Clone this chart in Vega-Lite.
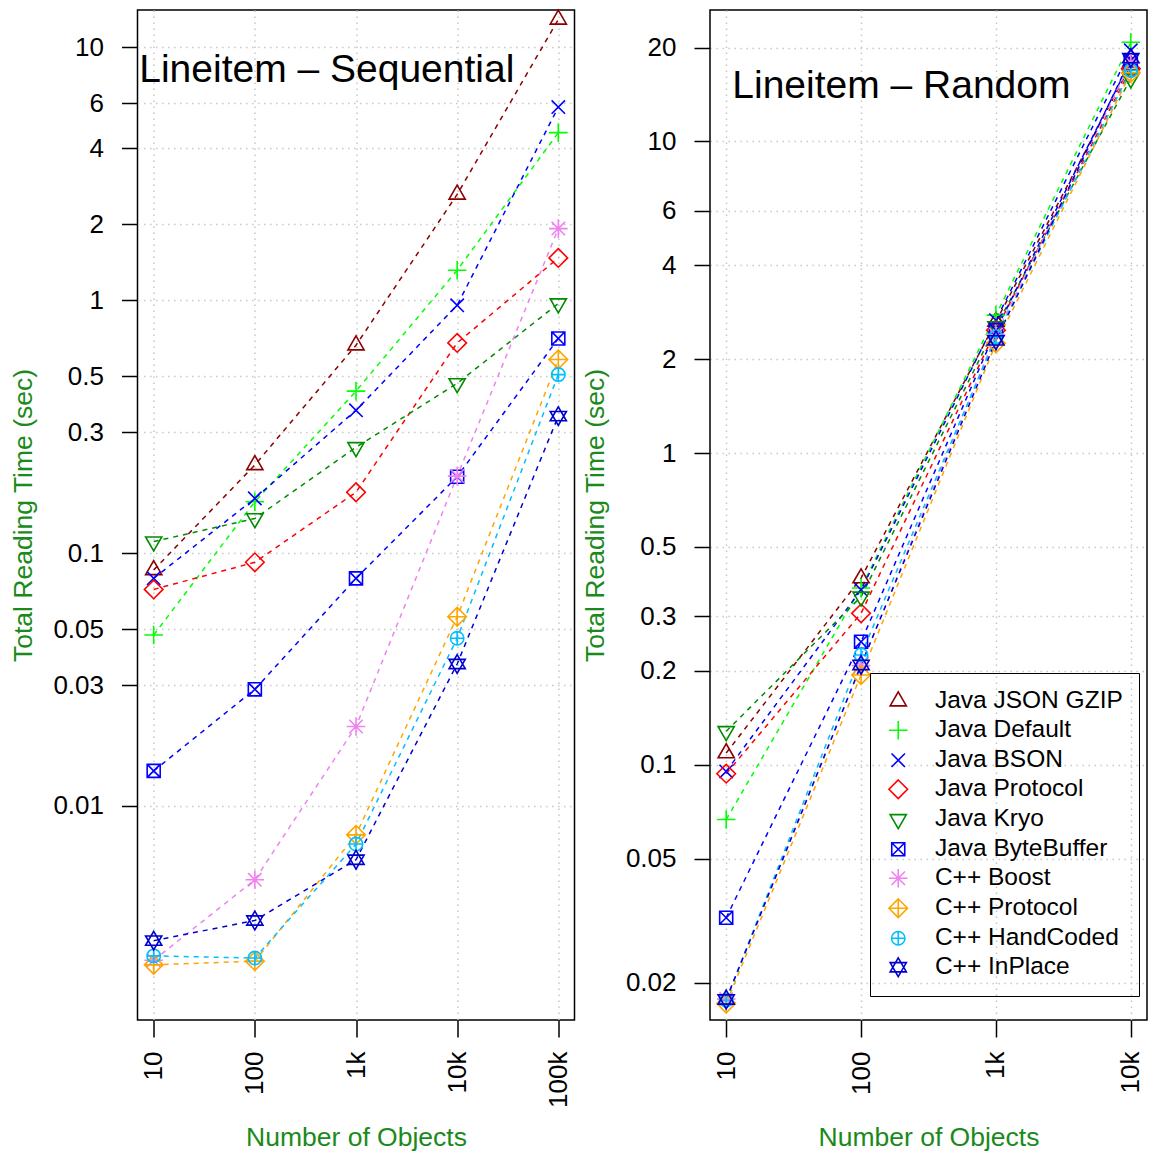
{
  "$schema": "https://vega.github.io/schema/vega-lite/v6.json",
  "background": "white",
  "padding": {"left": 9.5, "top": 6, "right": 0, "bottom": 0},
  "spacing": 6.5,
  "datasets": {
    "seq": [
      {"series": "Java JSON GZIP", "n": 10, "t": 0.0857},
      {"series": "Java JSON GZIP", "n": 100, "t": 0.223},
      {"series": "Java JSON GZIP", "n": 1000, "t": 0.664},
      {"series": "Java JSON GZIP", "n": 10000, "t": 2.62},
      {"series": "Java JSON GZIP", "n": 100000, "t": 12.9},
      {"series": "Java Default", "n": 10, "t": 0.0474},
      {"series": "Java Default", "n": 100, "t": 0.1595},
      {"series": "Java Default", "n": 1000, "t": 0.437},
      {"series": "Java Default", "n": 10000, "t": 1.314},
      {"series": "Java Default", "n": 100000, "t": 4.6},
      {"series": "Java BSON", "n": 10, "t": 0.0794},
      {"series": "Java BSON", "n": 100, "t": 0.1645},
      {"series": "Java BSON", "n": 1000, "t": 0.367},
      {"series": "Java BSON", "n": 10000, "t": 0.955},
      {"series": "Java BSON", "n": 100000, "t": 5.81},
      {"series": "Java Protocol", "n": 10, "t": 0.0718},
      {"series": "Java Protocol", "n": 100, "t": 0.0919},
      {"series": "Java Protocol", "n": 1000, "t": 0.174},
      {"series": "Java Protocol", "n": 10000, "t": 0.678},
      {"series": "Java Protocol", "n": 100000, "t": 1.47},
      {"series": "Java Kryo", "n": 10, "t": 0.111},
      {"series": "Java Kryo", "n": 100, "t": 0.137},
      {"series": "Java Kryo", "n": 1000, "t": 0.262},
      {"series": "Java Kryo", "n": 10000, "t": 0.469},
      {"series": "Java Kryo", "n": 100000, "t": 0.97},
      {"series": "Java ByteBuffer", "n": 10, "t": 0.01375},
      {"series": "Java ByteBuffer", "n": 100, "t": 0.0289},
      {"series": "Java ByteBuffer", "n": 1000, "t": 0.0794},
      {"series": "Java ByteBuffer", "n": 10000, "t": 0.2003},
      {"series": "Java ByteBuffer", "n": 100000, "t": 0.706},
      {"series": "C++ Boost", "n": 10, "t": 0.00245},
      {"series": "C++ Boost", "n": 100, "t": 0.0051},
      {"series": "C++ Boost", "n": 1000, "t": 0.0206},
      {"series": "C++ Boost", "n": 10000, "t": 0.2015},
      {"series": "C++ Boost", "n": 100000, "t": 1.92},
      {"series": "C++ Protocol", "n": 10, "t": 0.00235},
      {"series": "C++ Protocol", "n": 100, "t": 0.00243},
      {"series": "C++ Protocol", "n": 1000, "t": 0.00768},
      {"series": "C++ Protocol", "n": 10000, "t": 0.056},
      {"series": "C++ Protocol", "n": 100000, "t": 0.583},
      {"series": "C++ HandCoded", "n": 10, "t": 0.00255},
      {"series": "C++ HandCoded", "n": 100, "t": 0.0025},
      {"series": "C++ HandCoded", "n": 1000, "t": 0.00706},
      {"series": "C++ HandCoded", "n": 10000, "t": 0.046},
      {"series": "C++ HandCoded", "n": 100000, "t": 0.508},
      {"series": "C++ InPlace", "n": 10, "t": 0.00293},
      {"series": "C++ InPlace", "n": 100, "t": 0.00352},
      {"series": "C++ InPlace", "n": 1000, "t": 0.00612},
      {"series": "C++ InPlace", "n": 10000, "t": 0.0364},
      {"series": "C++ InPlace", "n": 100000, "t": 0.348}
    ],
    "rand": [
      {"series": "Java JSON GZIP", "n": 10, "t": 0.109},
      {"series": "Java JSON GZIP", "n": 100, "t": 0.397},
      {"series": "Java JSON GZIP", "n": 1000, "t": 2.64},
      {"series": "Java JSON GZIP", "n": 10000, "t": 17.6},
      {"series": "Java Default", "n": 10, "t": 0.0667},
      {"series": "Java Default", "n": 100, "t": 0.369},
      {"series": "Java Default", "n": 1000, "t": 2.77},
      {"series": "Java Default", "n": 10000, "t": 20.8},
      {"series": "Java BSON", "n": 10, "t": 0.0952},
      {"series": "Java BSON", "n": 100, "t": 0.364},
      {"series": "Java BSON", "n": 1000, "t": 2.67},
      {"series": "Java BSON", "n": 10000, "t": 19.6},
      {"series": "Java Protocol", "n": 10, "t": 0.0936},
      {"series": "Java Protocol", "n": 100, "t": 0.306},
      {"series": "Java Protocol", "n": 1000, "t": 2.48},
      {"series": "Java Protocol", "n": 10000, "t": 17.1},
      {"series": "Java Kryo", "n": 10, "t": 0.128},
      {"series": "Java Kryo", "n": 100, "t": 0.346},
      {"series": "Java Kryo", "n": 1000, "t": 2.55},
      {"series": "Java Kryo", "n": 10000, "t": 15.9},
      {"series": "Java ByteBuffer", "n": 10, "t": 0.0323},
      {"series": "Java ByteBuffer", "n": 100, "t": 0.248},
      {"series": "Java ByteBuffer", "n": 1000, "t": 2.48},
      {"series": "Java ByteBuffer", "n": 10000, "t": 18.2},
      {"series": "C++ Boost", "n": 10, "t": 0.0177},
      {"series": "C++ Boost", "n": 100, "t": 0.208},
      {"series": "C++ Boost", "n": 1000, "t": 2.4},
      {"series": "C++ Boost", "n": 10000, "t": 17.9},
      {"series": "C++ Protocol", "n": 10, "t": 0.01714},
      {"series": "C++ Protocol", "n": 100, "t": 0.194},
      {"series": "C++ Protocol", "n": 1000, "t": 2.25},
      {"series": "C++ Protocol", "n": 10000, "t": 16.6},
      {"series": "C++ HandCoded", "n": 10, "t": 0.01755},
      {"series": "C++ HandCoded", "n": 100, "t": 0.225},
      {"series": "C++ HandCoded", "n": 1000, "t": 2.36},
      {"series": "C++ HandCoded", "n": 10000, "t": 16.9},
      {"series": "C++ InPlace", "n": 10, "t": 0.01765},
      {"series": "C++ InPlace", "n": 100, "t": 0.209},
      {"series": "C++ InPlace", "n": 1000, "t": 2.3},
      {"series": "C++ InPlace", "n": 10000, "t": 18.5}
    ],
    "notes": [
      {"panel": "seq", "label": "Lineitem – Sequential", "n": 7.2, "t": 7.27},
      {"panel": "rand", "label": "Lineitem – Random", "n": 11.1, "t": 13.8}
    ]
  },
  "hconcat": [
    {
      "width": 437,
      "height": 1010,
      "data": {"name": "seq"},
      "encoding": {
        "x": {
          "field": "n", "type": "quantitative",
          "scale": {"type": "log", "domain": [6.918, 144544], "nice": false},
          "axis": {
            "values": [10, 100, 1000, 10000, 100000],
            "labelExpr": "datum.value >= 1000 ? format(datum.value / 1000, 'd') + 'k' : format(datum.value, 'd')",
            "labelAngle": 270,
            "labelPadding": 14,
            "tickSize": 17,
            "title": "Number of Objects",
            "titlePadding": 17
          }
        },
        "y": {
          "field": "t", "type": "quantitative",
          "scale": {"type": "log", "domain": [0.001422, 14.06], "nice": false},
          "axis": {
            "values": [0.01, 0.03, 0.05, 0.1, 0.3, 0.5, 1, 2, 4, 6, 10],
            "labelExpr": "'' + datum.value",
            "labelPadding": 18,
            "tickSize": 16,
            "title": "Total Reading Time (sec)",
            "titlePadding": 15.5
          }
        }
      },
      "layer": [
        {
          "mark": {"type": "line", "strokeDash": [5, 5], "strokeWidth": 1.5},
          "encoding": {
            "color": {"field": "series", "type": "nominal", "legend": null,
              "scale": {"domain": ["Java JSON GZIP", "Java Default", "Java BSON", "Java Protocol", "Java Kryo", "Java ByteBuffer", "C++ Boost", "C++ Protocol", "C++ HandCoded", "C++ InPlace"],
                        "range": ["#8B0000", "#00FF00", "#0000FF", "#FF0000", "#008B00", "#0000FF", "#EE82EE", "#FFA500", "#00BFFF", "#0000CD"]}}
          }
        },
        {
          "mark": {"type": "point", "filled": false, "size": 346, "strokeWidth": 1.6, "opacity": 1},
          "encoding": {
            "color": {"field": "series", "type": "nominal", "legend": null,
              "scale": {"domain": ["Java JSON GZIP", "Java Default", "Java BSON", "Java Protocol", "Java Kryo", "Java ByteBuffer", "C++ Boost", "C++ Protocol", "C++ HandCoded", "C++ InPlace"],
                        "range": ["#8B0000", "#00FF00", "#0000FF", "#FF0000", "#008B00", "#0000FF", "#EE82EE", "#FFA500", "#00BFFF", "#0000CD"]}},
            "shape": {"field": "series", "type": "nominal", "legend": null,
              "scale": {"domain": ["Java JSON GZIP", "Java Default", "Java BSON", "Java Protocol", "Java Kryo", "Java ByteBuffer", "C++ Boost", "C++ Protocol", "C++ HandCoded", "C++ InPlace"],
                        "range": [
                          "M0,-1L0.87,0.5L-0.87,0.5Z",
                          "M-1,0H1M0,-1V1",
                          "M-0.72,-0.72L0.72,0.72M-0.72,0.72L0.72,-0.72",
                          "M0,-1L1,0L0,1L-1,0Z",
                          "M0,1L0.87,-0.5L-0.87,-0.5Z",
                          "M-0.7,-0.7H0.7V0.7H-0.7ZM-0.7,-0.7L0.7,0.7M-0.7,0.7L0.7,-0.7",
                          "M-1,0H1M0,-1V1M-0.72,-0.72L0.72,0.72M-0.72,0.72L0.72,-0.72",
                          "M0,-1L1,0L0,1L-1,0ZM-1,0H1M0,-1V1",
                          "M-0.72,0A0.72 0.72 0 1 0 0.72,0A0.72 0.72 0 1 0 -0.72,0ZM-0.72,0H0.72M0,-0.72V0.72",
                          "M0,-1L0.87,0.5L-0.87,0.5ZM0,1L0.87,-0.5L-0.87,-0.5Z"
                        ]}}
          }
        },
        {
          "data": {"name": "notes"},
          "transform": [{"filter": "datum.panel === 'seq'"}],
          "mark": {"type": "text", "align": "left", "baseline": "alphabetic", "fontSize": 39, "font": "Liberation Sans", "color": "black"},
          "encoding": {"text": {"field": "label"}}
        }
      ]
    },
    {
      "width": 437,
      "height": 1010,
      "data": {"name": "rand"},
      "encoding": {
        "x": {
          "field": "n", "type": "quantitative",
          "scale": {"type": "log", "domain": [7.586, 13183], "nice": false},
          "axis": {
            "values": [10, 100, 1000, 10000],
            "labelExpr": "datum.value >= 1000 ? format(datum.value / 1000, 'd') + 'k' : format(datum.value, 'd')",
            "labelAngle": 270,
            "labelPadding": 14,
            "tickSize": 17,
            "title": "Number of Objects",
            "titlePadding": 30
          }
        },
        "y": {
          "field": "t", "type": "quantitative",
          "scale": {"type": "log", "domain": [0.01517, 26.4], "nice": false},
          "axis": {
            "values": [0.02, 0.05, 0.1, 0.2, 0.3, 0.5, 1, 2, 4, 6, 10, 20],
            "labelExpr": "'' + datum.value",
            "labelPadding": 18,
            "tickSize": 16,
            "title": "Total Reading Time (sec)",
            "titlePadding": 15.5
          }
        }
      },
      "layer": [
        {
          "mark": {"type": "line", "strokeDash": [5, 5], "strokeWidth": 1.5},
          "encoding": {
            "color": {"field": "series", "type": "nominal",
              "scale": {"domain": ["Java JSON GZIP", "Java Default", "Java BSON", "Java Protocol", "Java Kryo", "Java ByteBuffer", "C++ Boost", "C++ Protocol", "C++ HandCoded", "C++ InPlace"],
                        "range": ["#8B0000", "#00FF00", "#0000FF", "#FF0000", "#008B00", "#0000FF", "#EE82EE", "#FFA500", "#00BFFF", "#0000CD"]}}
          }
        },
        {
          "mark": {"type": "point", "filled": false, "size": 346, "strokeWidth": 1.6, "opacity": 1},
          "encoding": {
            "color": {"field": "series", "type": "nominal",
              "scale": {"domain": ["Java JSON GZIP", "Java Default", "Java BSON", "Java Protocol", "Java Kryo", "Java ByteBuffer", "C++ Boost", "C++ Protocol", "C++ HandCoded", "C++ InPlace"],
                        "range": ["#8B0000", "#00FF00", "#0000FF", "#FF0000", "#008B00", "#0000FF", "#EE82EE", "#FFA500", "#00BFFF", "#0000CD"]},
              "legend": {
                "title": null,
                "orient": "none",
                "legendX": 160,
                "legendY": 663,
                "padding": 16,
                "strokeColor": "black",
                "labelFont": "Liberation Sans",
                "labelFontSize": 24.5,
                "labelColor": "black",
                "labelLimit": 400,
                "labelOffset": 24.4,
                "rowPadding": 4,
                "symbolSize": 346,
                "symbolStrokeWidth": 1.6,
                "symbolFillColor": "transparent",
                "encode": {
                  "legend": {"strokeWidth": {"value": 1.5}},
                  "symbols": {"shape": {"value": {"expr": "['M-1.95,0H-1.35M1.35,0H1.95M0,-1L0.87,0.5L-0.87,0.5Z','M-1.95,0H-1.35M1.35,0H1.95M-1,0H1M0,-1V1','M-1.95,0H-1.35M1.35,0H1.95M-0.72,-0.72L0.72,0.72M-0.72,0.72L0.72,-0.72','M-1.95,0H-1.35M1.35,0H1.95M0,-1L1,0L0,1L-1,0Z','M-1.95,0H-1.35M1.35,0H1.95M0,1L0.87,-0.5L-0.87,-0.5Z','M-1.95,0H-1.35M1.35,0H1.95M-0.7,-0.7H0.7V0.7H-0.7ZM-0.7,-0.7L0.7,0.7M-0.7,0.7L0.7,-0.7','M-1.95,0H-1.35M1.35,0H1.95M-1,0H1M0,-1V1M-0.72,-0.72L0.72,0.72M-0.72,0.72L0.72,-0.72','M-1.95,0H-1.35M1.35,0H1.95M0,-1L1,0L0,1L-1,0ZM-1,0H1M0,-1V1','M-1.95,0H-1.35M1.35,0H1.95M-0.72,0A0.72 0.72 0 1 0 0.72,0A0.72 0.72 0 1 0 -0.72,0ZM-0.72,0H0.72M0,-0.72V0.72','M-1.95,0H-1.35M1.35,0H1.95M0,-1L0.87,0.5L-0.87,0.5ZM0,1L0.87,-0.5L-0.87,-0.5Z'][indexof(['Java JSON GZIP','Java Default','Java BSON','Java Protocol','Java Kryo','Java ByteBuffer','C++ Boost','C++ Protocol','C++ HandCoded','C++ InPlace'], datum.value)]"}}}
                }
              }
            },
            "shape": {"field": "series", "type": "nominal",
              "scale": {"domain": ["Java JSON GZIP", "Java Default", "Java BSON", "Java Protocol", "Java Kryo", "Java ByteBuffer", "C++ Boost", "C++ Protocol", "C++ HandCoded", "C++ InPlace"],
                        "range": [
                          "M0,-1L0.87,0.5L-0.87,0.5Z",
                          "M-1,0H1M0,-1V1",
                          "M-0.72,-0.72L0.72,0.72M-0.72,0.72L0.72,-0.72",
                          "M0,-1L1,0L0,1L-1,0Z",
                          "M0,1L0.87,-0.5L-0.87,-0.5Z",
                          "M-0.7,-0.7H0.7V0.7H-0.7ZM-0.7,-0.7L0.7,0.7M-0.7,0.7L0.7,-0.7",
                          "M-1,0H1M0,-1V1M-0.72,-0.72L0.72,0.72M-0.72,0.72L0.72,-0.72",
                          "M0,-1L1,0L0,1L-1,0ZM-1,0H1M0,-1V1",
                          "M-0.72,0A0.72 0.72 0 1 0 0.72,0A0.72 0.72 0 1 0 -0.72,0ZM-0.72,0H0.72M0,-0.72V0.72",
                          "M0,-1L0.87,0.5L-0.87,0.5ZM0,1L0.87,-0.5L-0.87,-0.5Z"
                        ]}}
          }
        },
        {
          "data": {"name": "notes"},
          "transform": [{"filter": "datum.panel === 'rand'"}],
          "mark": {"type": "text", "align": "left", "baseline": "alphabetic", "fontSize": 39, "font": "Liberation Sans", "color": "black"},
          "encoding": {"text": {"field": "label"}}
        }
      ]
    }
  ],
  "resolve": {"scale": {"color": "independent", "shape": "independent"}},
  "config": {
    "view": {"stroke": "black", "strokeWidth": 1.5},
    "font": "Liberation Sans",
    "axis": {
      "domain": false,
      "labelFont": "Liberation Sans",
      "labelFontSize": 26,
      "labelColor": "black",
      "titleFont": "Liberation Sans",
      "titleFontSize": 26.5,
      "titleFontWeight": "normal",
      "titleColor": "#1a8a1a",
      "tickColor": "black",
      "tickWidth": 1.5,
      "grid": true,
      "gridColor": "#c8c8c8",
      "gridDash": [1.5, 4.5],
      "gridWidth": 1.5
    }
  }
}
